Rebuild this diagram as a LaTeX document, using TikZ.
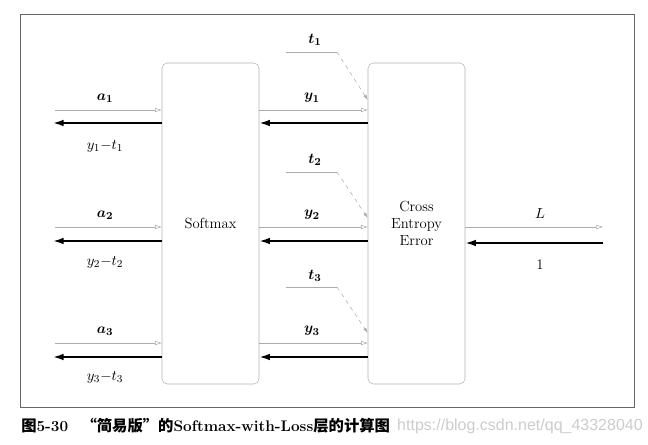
\documentclass[tikz,border=0pt]{standalone}
\usepackage{amsmath}
\usepackage{fontspec}
\newfontfamily\cjk{Noto Sans CJK SC}
\newfontfamily\wmfont{Liberation Sans}
\usetikzlibrary{arrows.meta}

\begin{document}
\begin{tikzpicture}[x=0.75pt, y=-0.75pt, font=\fontsize{11}{13}\selectfont,
    layer/.style={draw=gray!60, line width=0.4pt, rounded corners=4pt, align=center,
        inner sep=0pt, minimum width=72.75pt, minimum height=240.75pt},
    fwd/.style={draw=gray!65, line width=0.4pt, -{Triangle[open, length=5pt, width=3pt]}},
    bwd/.style={draw=black, line width=1.3pt, -{Latex[length=8pt, width=5pt]}},
    tline/.style={draw=gray!65, line width=0.4pt},
    tdash/.style={draw=gray!65, line width=0.4pt, dashed, -{Latex[length=4pt, width=2.5pt]}}]
    \useasboundingbox (0,0) rectangle (648,445);
    \draw[gray!80!black, line width=0.7pt] (20,14) rectangle (634,407);

    \node[layer] (smax) at (210.5,223.5) {Softmax};
    \node[layer] (cee) at (416.5,223.5) {Cross\\Entropy\\Error};

    \coordinate (in1) at (55,110);
    \coordinate (in2) at (55,227);
    \coordinate (in3) at (55,343);
    \coordinate (out1) at (53,123);
    \coordinate (out2) at (53,241);
    \coordinate (out3) at (53,357);

    \draw[fwd] (in1) -- (in1 -| smax.west);
    \draw[fwd] (in2) -- (in2 -| smax.west);
    \draw[fwd] (in3) -- (in3 -| smax.west);
    \draw[bwd] (out1 -| smax.west) -- (out1);
    \draw[bwd] (out2 -| smax.west) -- (out2);
    \draw[bwd] (out3 -| smax.west) -- (out3);

    \draw[fwd] (in1 -| smax.east) -- (in1 -| cee.west);
    \draw[fwd] (in2 -| smax.east) -- (in2 -| cee.west);
    \draw[fwd] (in3 -| smax.east) -- (in3 -| cee.west);
    \draw[bwd] (out1 -| cee.west) -- (out1 -| smax.east);
    \draw[bwd] (out2 -| cee.west) -- (out2 -| smax.east);
    \draw[bwd] (out3 -| cee.west) -- (out3 -| smax.east);

    \node (a1) at (105,98) {$\boldsymbol{a_1}$};
    \node (a2) at (105,215) {$\boldsymbol{a_2}$};
    \node (a3) at (105,331) {$\boldsymbol{a_3}$};
    \node (g1) at (105,146) {$y_1{-}t_1$};
    \node (g2) at (105,262) {$y_2{-}t_2$};
    \node (g3) at (105,377) {$y_3{-}t_3$};
    \node (y1) at (312,98) {$\boldsymbol{y_1}$};
    \node (y2) at (312,215) {$\boldsymbol{y_2}$};
    \node (y3) at (312,331) {$\boldsymbol{y_3}$};

    \node (t1) at (315,40) {$\boldsymbol{t_1}$};
    \node (t2) at (315,160) {$\boldsymbol{t_2}$};
    \node (t3) at (315,276) {$\boldsymbol{t_3}$};
    \coordinate (ts1) at (286,52);
    \coordinate (ts2) at (286,172);
    \coordinate (ts3) at (286,287);
    \coordinate (tk1) at (337,52);
    \coordinate (tk2) at (337,172);
    \coordinate (tk3) at (337,287);
    \draw[tline] (ts1) -- (tk1);
    \draw[tline] (ts2) -- (tk2);
    \draw[tline] (ts3) -- (tk3);
    \draw[tdash] (tk1) -- ([yshift=-36pt]tk1 -| cee.west);
    \draw[tdash] (tk2) -- ([yshift=-34.5pt]tk2 -| cee.west);
    \draw[tdash] (tk3) -- ([yshift=-34.5pt]tk3 -| cee.west);

    \coordinate (lend) at (603,227);
    \coordinate (gend) at (603,243);
    \draw[fwd] (lend -| cee.east) -- (lend);
    \draw[bwd] (gend) -- (gend -| cee.east);
    \node (loss) at (540,214) {$L$};
    \node (one) at (540,265) {1};

    \node[anchor=west, inner sep=0pt, font=\fontsize{11.5}{13}\selectfont\bfseries] (cap) at (21,426)
        {{\cjk 图}5-30\hspace{10pt}{\cjk “简易版”的}Softmax-with-Loss{\cjk 层的计算图}};
    \node[anchor=west, inner sep=0pt, text=gray!40, font=\wmfont\fontsize{12}{14}\selectfont] (mark) at (cap.east)
        {\hspace{5pt}https://blog.csdn.net/qq\_43328040};
\end{tikzpicture}
\end{document}
